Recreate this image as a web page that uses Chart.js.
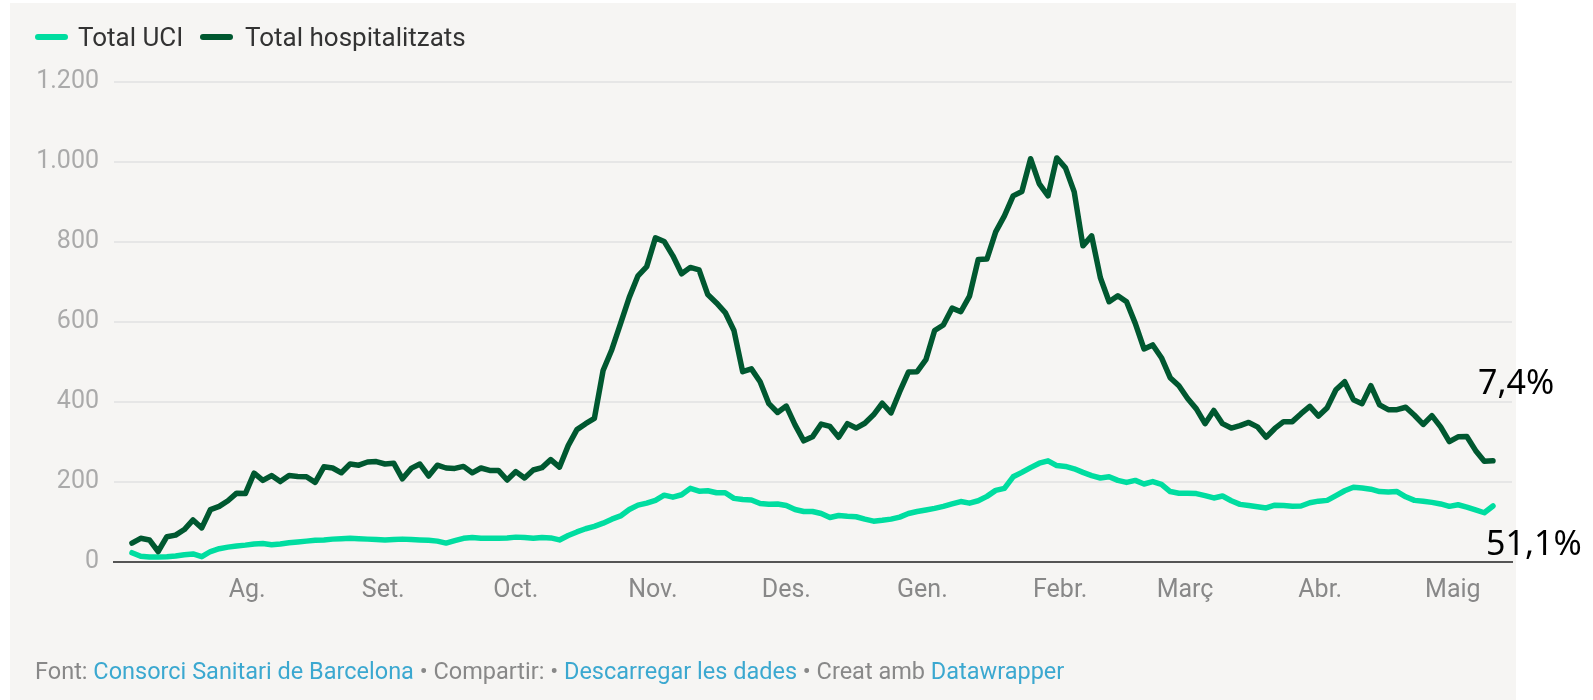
<!DOCTYPE html>
<html>
<head>
<meta charset="utf-8">
<script src="https://cdn.jsdelivr.net/npm/chart.js@4.4.1/dist/chart.umd.min.js"></script>
<style>
  html, body { margin: 0; padding: 0; background: #fff; }
  body { width: 1593px; height: 700px; position: relative; overflow: hidden; font-family: Roboto, sans-serif; }
  #panel { position: absolute; left: 10px; top: 3px; width: 1506px; height: 697px; background: #f6f5f3; }
  #chart { position: absolute; left: 0; top: 0; }
  .sw { position: absolute; width: 33px; height: 6px; border-radius: 3px; top: 34px; }
  .lg { position: absolute; top: 22px; font-size: 26px; line-height: 30px; color: #333; white-space: nowrap; }
  #footer { position: absolute; left: 35px; top: 657px; font-size: 23.5px; line-height: 28px; color: #888; white-space: nowrap; }
  #footer .lnk { color: #3ba8d0; }
  .note { position: absolute; font-family: "Noto Sans", sans-serif; font-size: 34px; line-height: 34px; color: #000; white-space: nowrap; }
</style>
</head>
<body>
<div id="panel"></div>
<canvas id="chart" width="1593" height="700"></canvas>

<div class="sw" style="left:35px;background:#00dda0"></div>
<div class="lg" style="left:78px">Total UCI</div>
<div class="sw" style="left:200px;background:#005830"></div>
<div class="lg" style="left:245px">Total hospitalitzats</div>

<div class="note" style="left:1478px;top:364px">7,4%</div>
<div class="note" style="left:1486px;top:525px">51,1%</div>

<div id="footer">Font: <span class="lnk">Consorci Sanitari de Barcelona</span> • Compartir: • <span class="lnk">Descarregar les dades</span> • Creat amb <span class="lnk">Datawrapper</span></div>

<script>
// month labels and where they sit (in sample index units, ~2 days per sample)
const monthLabels = ['Ag.', 'Set.', 'Oct.', 'Nov.', 'Des.', 'Gen.', 'Febr.', 'Març', 'Abr.', 'Maig'];
const monthTickPos = [13.2, 28.8, 44.0, 59.7, 75.0, 90.6, 106.4, 120.7, 136.2, 151.4];
const yTicks = [0, 200, 400, 600, 800, 1000, 1200];

// Total hospitalitzats
const totalHosp = [
  46, 58, 54, 25, 62, 66, 80, 104, 84, 130,
  138, 152, 171, 170, 221, 203, 215, 200, 215, 213,
  212, 198, 237, 234, 222, 244, 241, 249, 250, 244,
  246, 207, 233, 244, 214, 241, 234, 233, 238, 222,
  234, 228, 228, 204, 225, 209, 229, 235, 255, 236,
  290, 330, 345, 358, 478, 530, 595, 661, 715, 738,
  810, 801, 765, 720, 736, 730, 668, 647, 623, 578,
  475, 482, 450, 395, 373, 389, 342, 302, 312, 344,
  338, 311, 345, 334, 346, 367, 396, 372, 425, 474,
  475, 505, 578, 592, 634, 625, 664, 756, 757, 825,
  865, 915, 926, 1008, 945, 915, 1010, 985, 925, 790,
  815, 710, 650, 665, 650, 596, 532, 542, 510, 460,
  440, 408, 382, 345, 378, 345, 334, 340, 348, 337,
  311, 333, 350, 350, 370, 388, 364, 385, 430, 450,
  405, 395, 440, 392, 380, 380, 386, 366, 343, 365,
  337, 300, 312, 313, 278, 251, 252
];

// Total UCI
const totalUCI = [
  22, 13, 11, 11, 12, 14, 17, 19, 12, 25,
  32, 36, 39, 41, 44, 45, 42, 44, 47, 49,
  51, 53, 54, 56, 57, 58, 57, 56, 55, 54,
  55, 56, 55, 54, 53, 51, 46, 52, 58, 60,
  58, 58, 58, 59, 61, 60, 58, 60, 59, 54,
  65, 74, 82, 88, 96, 106, 114, 130, 141, 146,
  153, 166, 161, 167, 183, 176, 177, 172, 172, 158,
  155, 154, 145, 143, 144, 140, 130, 125, 125, 120,
  110, 115, 113, 112, 106, 101, 103, 106, 111, 120,
  125, 129, 133, 138, 144, 150, 146, 152, 163, 178,
  183, 212, 223, 235, 246, 252, 240, 238, 232, 223,
  215, 209, 212, 203, 198, 203, 194, 200, 193, 175,
  171, 171, 170, 165, 159, 164, 152, 143, 140, 137,
  134, 141, 140, 138, 139, 147, 151, 153, 165, 177,
  186, 184, 181, 175, 174, 175, 162, 153, 151, 148,
  144, 138, 142, 136, 129, 122, 139
];

const sampleIdx = totalHosp.map((v, i) => i);

const ctx = document.getElementById('chart').getContext('2d');
const chart = new Chart(ctx, {
  type: 'line',
  data: {
    labels: sampleIdx,
    datasets: [
      {
        label: 'Total hospitalitzats',
        data: totalHosp,
        borderColor: '#005830',
        borderWidth: 5.5,
        pointRadius: 0,
        tension: 0,
        borderJoinStyle: 'round',
        borderCapStyle: 'round',
        fill: false
      },
      {
        label: 'Total UCI',
        data: totalUCI,
        borderColor: '#00dda0',
        borderWidth: 5.5,
        pointRadius: 0,
        tension: 0,
        borderJoinStyle: 'round',
        borderCapStyle: 'round',
        fill: false
      }
    ]
  },
  options: {
    responsive: false,
    devicePixelRatio: 1,
    animation: false,
    layout: { padding: { top: 82, right: 81, left: 0, bottom: 0 } },
    plugins: { legend: { display: false }, tooltip: { enabled: false } },
    scales: {
      x: {
        type: 'linear',
        min: -2.06,
        max: 158.18,
        afterFit: function(s) { s.height = 138.5; },
        afterBuildTicks: function(s) { s.ticks = monthTickPos.map(v => ({ value: v })); },
        grid: { display: false, drawTicks: false },
        border: { display: true, color: '#555', width: 2 },
        ticks: {
          autoSkip: false,
          maxRotation: 0,
          padding: 14,
          color: '#888',
          font: { family: 'Roboto', size: 25 },
          callback: function(v, i) { return monthLabels[i]; }
        }
      },
      y: {
        min: 0,
        max: 1200,
        afterFit: function(s) { s.width = 114; },
        afterBuildTicks: function(s) { s.ticks = yTicks.map(v => ({ value: v })); },
        grid: { color: '#e6e6e6', lineWidth: 2, drawTicks: false },
        border: { display: false },
        ticks: {
          padding: 15,
          color: '#aaa',
          font: { family: 'Roboto', size: 25 },
          callback: function(v) { return v >= 1000 ? Math.floor(v / 1000) + '.' + String(v % 1000).padStart(3, '0') : String(v); }
        }
      }
    }
  }
});
</script>
</body>
</html>
